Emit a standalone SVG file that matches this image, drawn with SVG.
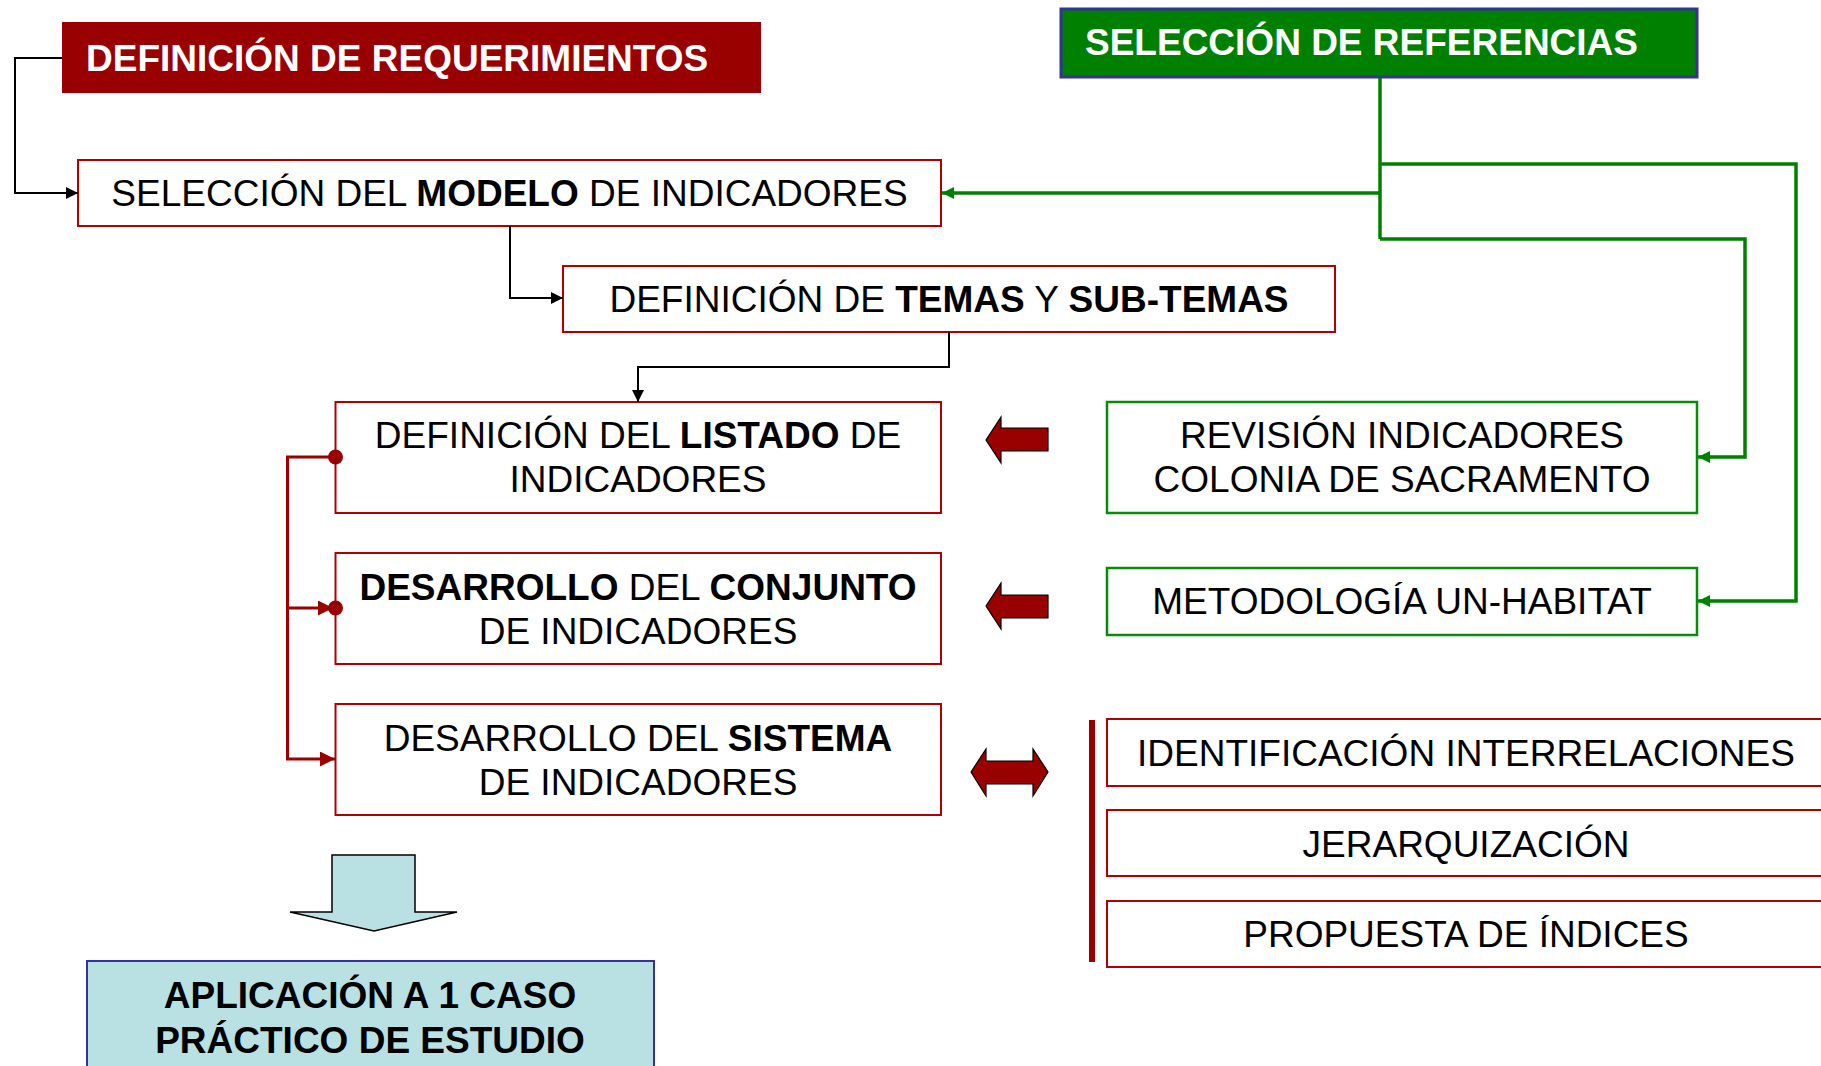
<svg xmlns="http://www.w3.org/2000/svg" width="1821" height="1066" viewBox="0 0 1821 1066">
<style>
text{font-family:"Liberation Sans",Arial,sans-serif;font-size:37px;fill:#000}
.t{text-anchor:middle}
.b{font-weight:bold}
.w{fill:#fff;font-weight:bold}
.rb{fill:#fff;stroke:#b00000;stroke-width:2}
.gb{fill:#fff;stroke:#0a8a0a;stroke-width:2.5}
.k{fill:none;stroke:#000;stroke-width:2}
.g{fill:none;stroke:#008000;stroke-width:3.5}
.r{fill:none;stroke:#990000;stroke-width:3}
.blk{fill:#990000;stroke:#000;stroke-width:1.2}
</style>
<defs>
<marker id="ak" viewBox="0 0 10 10" refX="10" refY="5" markerWidth="12" markerHeight="12" markerUnits="userSpaceOnUse" orient="auto"><path d="M0,0L10,5L0,10Z" fill="#000"/></marker>
<marker id="ag" viewBox="0 0 10 10" refX="10" refY="5" markerWidth="12" markerHeight="14" markerUnits="userSpaceOnUse" orient="auto"><path d="M0,0L10,5L0,10Z" fill="#008000"/></marker>
<marker id="ar" viewBox="0 0 10 10" refX="10" refY="5" markerWidth="15" markerHeight="15" markerUnits="userSpaceOnUse" orient="auto"><path d="M0,0L10,5L0,10Z" fill="#990000"/></marker>
</defs>
<rect width="1821" height="1066" fill="#fff"/>
<g id="n-req">
<rect x="62" y="22" width="699" height="71" fill="#990000"/>
<text class="w" x="86" y="71">DEFINICIÓN DE REQUERIMIENTOS</text>
</g>
<g id="n-ref">
<rect x="1061" y="9" width="636" height="68" fill="#008000" stroke="#333399" stroke-width="3"/>
<text class="w" x="1085" y="55">SELECCIÓN DE REFERENCIAS</text>
</g>
<g id="n-modelo">
<rect class="rb" x="78" y="160" width="863" height="66"/>
<text class="t" x="509.5" y="206">SELECCIÓN DEL <tspan class="b">MODELO</tspan> DE INDICADORES</text>
</g>
<g id="n-temas">
<rect class="rb" x="563" y="266" width="772" height="66"/>
<text class="t" x="949" y="312">DEFINICIÓN DE <tspan class="b">TEMAS</tspan> Y <tspan class="b">SUB-TEMAS</tspan></text>
</g>
<g id="n-listado">
<rect class="rb" x="335.5" y="402" width="605.5" height="111"/>
<text class="t" x="638" y="448">DEFINICIÓN DEL <tspan class="b">LISTADO</tspan> DE</text>
<text class="t" x="638" y="492">INDICADORES</text>
</g>
<g id="n-conjunto">
<rect class="rb" x="335.5" y="553" width="605.5" height="111"/>
<text class="t" x="638" y="600"><tspan class="b">DESARROLLO</tspan> DEL <tspan class="b">CONJUNTO</tspan></text>
<text class="t" x="638" y="644">DE INDICADORES</text>
</g>
<g id="n-sistema">
<rect class="rb" x="335.5" y="704" width="605.5" height="111"/>
<text class="t" x="638" y="751">DESARROLLO DEL <tspan class="b">SISTEMA</tspan></text>
<text class="t" x="638" y="795">DE INDICADORES</text>
</g>
<g id="n-revision">
<rect class="gb" x="1107" y="402" width="590" height="111"/>
<text class="t" x="1402" y="448">REVISIÓN INDICADORES</text>
<text class="t" x="1402" y="492">COLONIA DE SACRAMENTO</text>
</g>
<g id="n-unhabitat">
<rect class="gb" x="1107" y="568" width="590" height="67"/>
<text class="t" x="1402" y="614">METODOLOGÍA UN-HABITAT</text>
</g>
<g id="n-interrel">
<rect class="rb" x="1107" y="719" width="730" height="67"/>
<text class="t" x="1466" y="766">IDENTIFICACIÓN INTERRELACIONES</text>
</g>
<g id="n-jerarq">
<rect class="rb" x="1107" y="810" width="730" height="66"/>
<text class="t" x="1466" y="857">JERARQUIZACIÓN</text>
</g>
<g id="n-indices">
<rect class="rb" x="1107" y="901" width="730" height="66"/>
<text class="t" x="1466" y="947">PROPUESTA DE ÍNDICES</text>
</g>
<g id="n-aplicacion">
<rect x="87" y="961" width="567" height="120" fill="#b9e0e3" stroke="#333399" stroke-width="2"/>
<text class="t b" font-size="38" x="370" y="1008">APLICACIÓN A 1 CASO</text>
<text class="t b" font-size="38" x="370" y="1053">PRÁCTICO DE ESTUDIO</text>
</g>
<g id="connectors">
<path class="k" d="M62,58H15V193H78" marker-end="url(#ak)"/>
<path class="k" d="M510,226V298H563" marker-end="url(#ak)"/>
<path class="k" d="M949,332V367H638V402" marker-end="url(#ak)"/>
<path class="g" d="M1380,78V239"/>
<path class="g" d="M1380,193H942" marker-end="url(#ag)"/>
<path class="g" d="M1380,164H1796V601H1698" marker-end="url(#ag)"/>
<path class="g" d="M1380,239H1745V457H1698" marker-end="url(#ag)"/>
<path class="r" d="M335,457H287.5V759H335" marker-end="url(#ar)"/>
<path class="r" d="M287.5,608H333" marker-end="url(#ar)"/>
<circle cx="335.5" cy="457" r="7.5" fill="#990000"/>
<circle cx="335.5" cy="608" r="7.5" fill="#990000"/>
<path class="blk" d="M986,440L1001,417V428H1048V451H1001V463Z"/>
<path class="blk" d="M986,606L1001,583V595H1048V618H1001V629Z"/>
<path class="blk" d="M971,772L986,749V761H1033V749L1048,772L1033,796V784H986V796Z"/>
<rect x="1089" y="720" width="6" height="242" fill="#990000"/>
<path d="M332,855H415V912H457L374,931L290,912H332Z" fill="#b9e0e3" stroke="#000" stroke-width="1.5"/>
</g>
</svg>
